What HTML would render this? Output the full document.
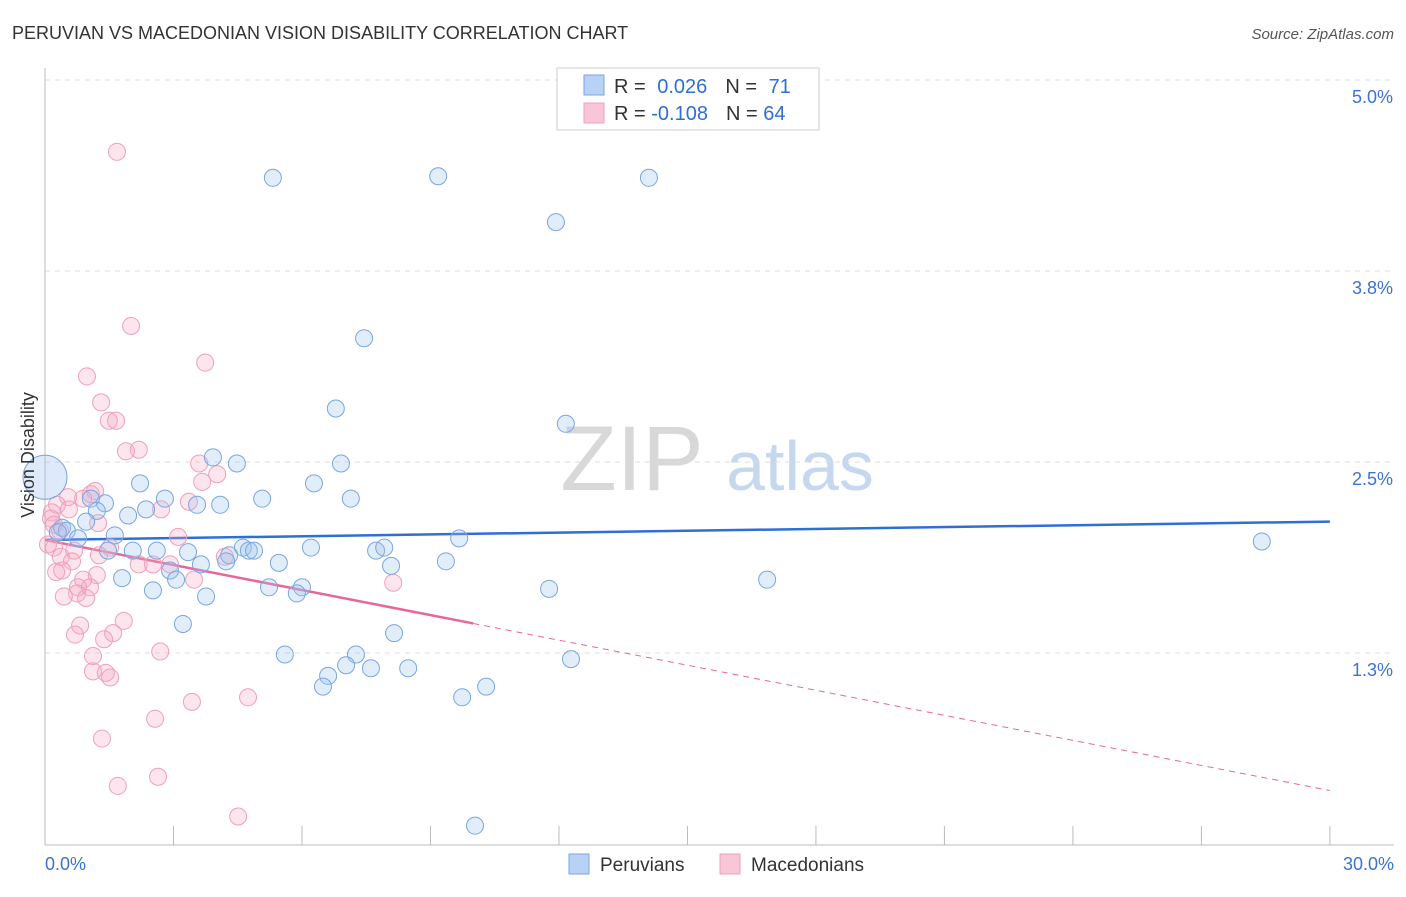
<!DOCTYPE html>
<html><head><meta charset="utf-8"><style>
body{margin:0;background:#fff;font-family:"Liberation Sans",sans-serif;}
svg text{font-family:"Liberation Sans",sans-serif;}
</style></head><body>
<svg id="chart" width="1406" height="892" viewBox="0 0 1406 892">
<text x="12" y="39" font-size="18" fill="#333">PERUVIAN VS MACEDONIAN VISION DISABILITY CORRELATION CHART</text>
<text x="1394" y="39" font-size="15" fill="#555" font-style="italic" text-anchor="end">Source: ZipAtlas.com</text>
<g>
<text x="632" y="490" font-size="92" fill="#d8d8d8" font-family="Liberation Serif" text-anchor="middle">ZIP</text>
<text x="800" y="490" font-size="70" fill="#c5d8f0" text-anchor="middle">atlas</text>
</g>
<g id="grid"></g>
<g id="axes"></g>
<g id="lines"></g>
<g id="points"></g>
<g>
<rect x="557" y="68" width="262" height="62" fill="#fff" stroke="#ccc"/>
<rect x="584" y="75" width="20" height="20" fill="#b7d2f5" stroke="#7aa6e0"/>
<rect x="584" y="103" width="20" height="20" fill="#f8c6d6" stroke="#eea0bb"/>
<text x="614" y="93" font-size="20" fill="#333">R = <tspan fill="#2d6fd4" dx="6">0.026</tspan><tspan dx="18" fill="#333">N = </tspan><tspan fill="#2d6fd4" dx="6">71</tspan></text>
<text x="614" y="120" font-size="20" fill="#333">R = <tspan fill="#2d6fd4" dx="0">-0.108</tspan><tspan dx="18" fill="#333">N = </tspan><tspan fill="#2d6fd4">64</tspan></text>
</g>
<g>
<rect x="569" y="854" width="20" height="20" fill="#b7d2f5" stroke="#7aa6e0"/>
<text x="600" y="871" font-size="19" fill="#333">Peruvians</text>
<rect x="720" y="854" width="20" height="20" fill="#f8c6d6" stroke="#eea0bb"/>
<text x="751" y="871" font-size="19" fill="#333">Macedonians</text>
</g>
<text transform="translate(34,455) rotate(-90)" font-size="18" fill="#333" text-anchor="middle">Vision Disability</text>
</svg>
<script>
const yTicks=[5.0,3.75,2.5,1.25];
const yTickLabels=["5.0%","3.8%","2.5%","1.3%"];
const xTickVals=[0,3,6,9,12,15,18,21,24,27,30];
const xEndLabels=["0.0%","30.0%"];
const blueX=[5.32,9.18,14.10,11.93,7.45,6.79,12.16,3.92,4.48,6.91,2.22,6.28,2.80,5.07,7.14,3.55,4.09,1.40,1.07,2.36,1.94,1.21,0.96,0.40,0.51,0.30,1.63,0.77,9.67,28.41,1.47,2.05,2.61,3.34,4.62,4.76,4.88,4.30,6.21,7.73,7.92,3.64,4.23,5.46,8.08,9.36,2.92,3.06,1.80,16.86,5.23,6.00,5.88,11.77,2.52,3.76,3.22,8.15,5.60,7.26,12.28,7.03,7.61,8.48,6.61,6.49,10.30,9.74,10.04];
const blueY=[4.36,4.37,4.36,4.07,3.31,2.85,2.75,2.53,2.49,2.49,2.36,2.36,2.26,2.26,2.26,2.22,2.22,2.23,2.26,2.19,2.15,2.18,2.11,2.07,2.05,2.04,2.02,2.00,2.00,1.98,1.92,1.92,1.92,1.91,1.94,1.92,1.92,1.89,1.94,1.92,1.94,1.83,1.85,1.84,1.82,1.85,1.79,1.73,1.74,1.73,1.68,1.68,1.64,1.67,1.66,1.62,1.44,1.38,1.24,1.24,1.21,1.17,1.15,1.15,1.10,1.03,1.03,0.96,0.12];
const blueBig=[0,2.40];
const pinkX=[1.68,2.01,3.74,0.98,1.31,1.49,1.66,2.19,1.89,3.60,4.02,3.67,3.36,1.17,0.54,0.28,0.56,1.07,0.89,2.71,0.16,0.14,0.21,1.24,0.35,3.11,0.07,0.21,1.52,0.68,1.26,0.37,0.63,4.20,2.19,2.52,2.92,3.48,0.26,0.40,1.21,0.89,8.13,0.77,0.75,1.05,0.44,0.96,1.84,0.82,0.70,1.59,1.38,1.12,2.69,1.12,1.42,1.52,4.74,3.43,2.57,1.33,2.64,1.70,4.51];
const pinkY=[4.53,3.39,3.15,3.06,2.89,2.77,2.77,2.58,2.57,2.49,2.42,2.37,2.24,2.31,2.27,2.22,2.19,2.29,2.26,2.19,2.17,2.13,2.09,2.10,2.05,2.01,1.96,1.94,1.94,1.92,1.89,1.88,1.85,1.88,1.83,1.83,1.83,1.73,1.78,1.79,1.76,1.73,1.71,1.68,1.64,1.68,1.62,1.61,1.46,1.43,1.37,1.38,1.34,1.23,1.26,1.13,1.12,1.09,0.96,0.93,0.82,0.69,0.44,0.38,0.18];
const blueTrend=[1.99,2.11];
const pinkTrend=[1.99,0.35];
const pinkSolidEnd=10.0;

const NS="http://www.w3.org/2000/svg";
const X=v=>45+v*42.83, Y=v=>844-v*152.8;
function mk(tag,attrs,parent){const e=document.createElementNS(NS,tag);for(const k in attrs)e.setAttribute(k,attrs[k]);parent.appendChild(e);return e;}
const grid=document.getElementById('grid'),axes=document.getElementById('axes'),lines=document.getElementById('lines'),pts=document.getElementById('points');
yTicks.forEach((t,i)=>{
 const l=mk('line',{x1:45,x2:1394,y1:Y(t),y2:Y(t),stroke:'#ddd','stroke-dasharray':'5,5'},grid);
 
 
 const tx=mk('text',{x:1393,y:Y(t)+23,'font-size':18,fill:'#3b73d1','text-anchor':'end'},axes);
 tx.textContent=yTickLabels[i];
 
 
});
const ax=mk('line',{x1:45,x2:1394,y1:845,y2:845,stroke:'#bbb'},axes);


const ay=mk('line',{x1:45,x2:45,y1:68,y2:845,stroke:'#bbb'},axes);


xTickVals.forEach(v=>{
 const t=mk('line',{x1:X(v),x2:X(v),y1:826,y2:845,stroke:'#bbb'},axes);
 
 
});
const xl0=mk('text',{x:45,y:870,'font-size':18,fill:'#3b73d1'},axes);
xl0.textContent=xEndLabels[0];


const xl1=mk('text',{x:1394,y:870,'font-size':18,fill:'#3b73d1','text-anchor':'end'},axes);
xl1.textContent=xEndLabels[1];



pinkX.forEach((x,i)=>{
 const c=mk('circle',{cx:X(x),cy:Y(pinkY[i]),r:8.5,fill:'rgba(244,170,195,0.3)',stroke:'#eea0bb','stroke-width':1},pts);
 
 
});
blueX.forEach((x,i)=>{
 const c=mk('circle',{cx:X(x),cy:Y(blueY[i]),r:8.5,fill:'rgba(160,196,240,0.3)',stroke:'#7aa6e0','stroke-width':1},pts);
 
 
});
const big=mk('circle',{cx:X(blueBig[0]),cy:Y(blueBig[1]),r:22,fill:'rgba(160,196,240,0.35)',stroke:'#7aa6e0'},pts);



const bl=mk('line',{x1:X(0),y1:Y(blueTrend[0]),x2:X(30),y2:Y(blueTrend[1]),stroke:'#2d6fd4','stroke-width':2.5},lines);


const pAt=v=>pinkTrend[0]+(pinkTrend[1]-pinkTrend[0])*v/30;
const pl=mk('line',{x1:X(0),y1:Y(pinkTrend[0]),x2:X(pinkSolidEnd),y2:Y(pAt(pinkSolidEnd)),stroke:'#e8679a','stroke-width':2.5},lines);


const pd=mk('line',{x1:X(pinkSolidEnd),y1:Y(pAt(pinkSolidEnd)),x2:X(30),y2:Y(pinkTrend[1]),stroke:'#e8679a','stroke-width':1,'stroke-dasharray':'6,5'},lines);


</script>
</body></html>
